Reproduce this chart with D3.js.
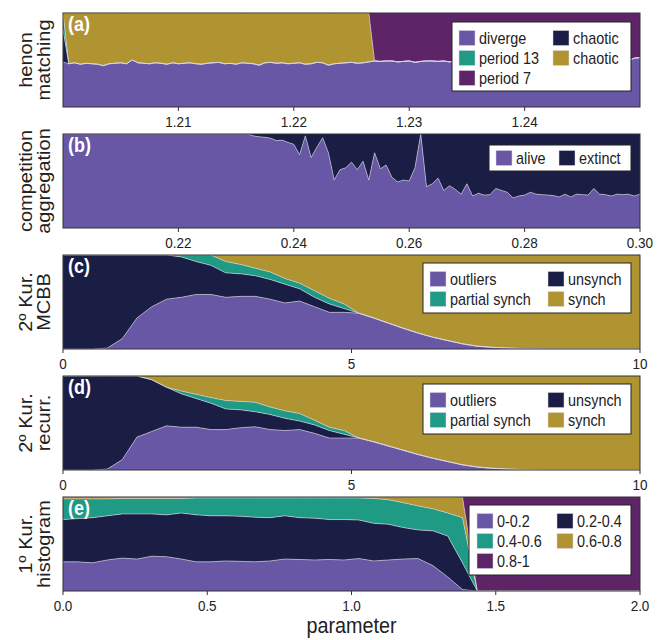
<!DOCTYPE html>
<html><head><meta charset="utf-8">
<script src="https://cdn.jsdelivr.net/npm/d3@7"></script>
<style>body{margin:0;background:#fff} text{font-family:"Liberation Sans",Arial,sans-serif}</style>
</head><body><svg id="chart" width="661" height="640"></svg>
<script>
// ---------------- DATA ----------------
// (a) henon matching : parameter grid 1.2000 .. 1.2500 step 0.0005
const henonX = d3.range(101).map(i => 1.2 + i * 0.0005);
const henonDiverge = [
 .48,.46,.47,.455,.465,.46,.455,.44,.46,.465,
 .47,.46,.50,.47,.465,.46,.47,.465,.455,.47,
 .46,.465,.47,.46,.455,.465,.47,.475,.46,.465,
 .455,.47,.465,.46,.445,.47,.475,.465,.47,.46,
 .465,.47,.455,.46,.475,.47,.445,.46,.465,.47,
 .475,.465,.47,.48,
 .49,.485,.49,.49,.48,.485,.49,.475,.485,.49,
 .49,.485,.49,.48,.49,.495,.485,.49,.49,.485,
 .48,.49,.49,.485,.49,.49,.495,.49,.485,.49,
 .49,.485,.49,.49,.485,.49,.49,.485,.49,.49,
 .485,.49,.49,.485,.49,.52,.525];
// which state holds the non-diverging remainder, as runs of samples
const henonRemainderRuns = [["mixed", 1], ["chaoticGold", 53], ["period7", 47]];
const henonMixed = { chaoticDark: 0.34, period13: 0.18 };
const henonTicks = [1.21, 1.22, 1.23, 1.24];

// (b) competition aggregation : grid 0.200 .. 0.300 step 0.001
const compX = d3.range(101).map(i => 0.2 + i * 0.001);
const compAlive = [
 1,1,1,1,1,1,1,1,1,1, 1,1,1,1,1,1,1,1,1,1, 1,1,1,1,1,1,1,1,1,1, 1,1,1,
 .98,.97,.965,.955,.93,.935,.91,.89,.78,.98,
 .75,.86,.96,.80,.51,.62,.64,.70,.62,.71,
 .51,.80,.63,.67,.54,.49,.51,.50,.64,1.0,
 .44,.47,.53,.40,.45,.41,.36,.47,.34,.37,
 .35,.355,.42,.40,.38,.32,.34,.35,.38,.36,
 .355,.35,.345,.33,.36,.33,.36,.355,.35,.42,
 .36,.355,.34,.36,.355,.36,.34,.36];
const compTicks = [0.22, 0.24, 0.26, 0.28, 0.30];

// (c) 2º Kur. MCBB : 40 samples on 0..10
const kurX = d3.range(40).map(i => i * 10 / 39);
const mcbbOutliers = [0,0,0,.01,.11,.33,.45,.53,.55,.58, .58,.55,.56,.56,.53,.49,.51,.45,.39,.39,
 .38,.33,.275,.22,.17,.125,.09,.055,.03,.018, .01,.005,.002,0,0,0,0,0,0,0];
const mcbbUnsynch = [1,1,1,.99,.89,.67,.55,.47,.43,.35, .31,.26,.24,.22,.21,.20,.13,.10,.09,.04,
 0,0,0,0,0,0,0,0,0,0, 0,0,0,0,0,0,0,0,0,0];
const mcbbPartial = [0,0,0,0,0,0,0,0,.02,.07, .11,.12,.10,.08,.08,.06,.06,.07,.06,.05,
 0,0,0,0,0,0,0,0,0,0, 0,0,0,0,0,0,0,0,0,0];
const mcbbSynch = [0,0,0,0,0,0,0,0,0,0, 0,.07,.10,.14,.18,.25,.30,.38,.46,.52,
 .62,.67,.725,.78,.83,.875,.91,.945,.97,.982, .99,.995,.998,1,1,1,1,1,1,1];

// (d) 2º Kur. recurr.
const recOutliers = [0,0,0,.01,.11,.35,.41,.47,.455,.455, .43,.43,.45,.46,.43,.42,.43,.39,.34,.34,
 .34,.30,.255,.21,.165,.125,.09,.055,.032,.018, .01,.005,.002,0,0,0,0,0,0,0];
const recUnsynch = [1,1,1,.99,.89,.65,.55,.41,.355,.305, .28,.22,.19,.16,.16,.13,.09,.09,.08,.04,
 0,0,0,0,0,0,0,0,0,0, 0,0,0,0,0,0,0,0,0,0];
const recPartial = [0,0,0,0,0,0,0,0,.03,.045, .06,.09,.09,.10,.08,.08,.08,.05,.035,.04,
 0,0,0,0,0,0,0,0,0,0, 0,0,0,0,0,0,0,0,0,0];
const recSynch = [0,0,0,0,0,0,.04,.12,.16,.195, .23,.26,.27,.28,.33,.37,.40,.47,.545,.58,
 .66,.70,.745,.79,.835,.875,.91,.945,.968,.982, .99,.995,.998,1,1,1,1,1,1,1];
const kurTicks = [0, 5, 10];

// (e) 1º Kur. histogram : 40 samples on 0..2
const histX = d3.range(40).map(i => i * 2 / 39);
const hist02 = [.31,.31,.30,.33,.35,.34,.37,.365,.34,.31, .31,.32,.315,.31,.32,.34,.335,.33,.335,.33,
 .345,.32,.33,.34,.345,.27,.15,.015,0,0, 0,0,0,0,0,0,0,0,0,0];
const hist24 = [.45,.46,.48,.47,.47,.48,.45,.445,.49,.50, .49,.48,.48,.475,.46,.46,.445,.445,.425,.43,
 .41,.40,.38,.335,.305,.37,.435,.285,0,0, 0,0,0,0,0,0,0,0,0,0];
const hist46 = [.22,.21,.20,.18,.165,.165,.165,.175,.155,.18, .19,.19,.195,.205,.21,.19,.21,.215,.23,.23,
 .235,.265,.26,.265,.255,.235,.245,.48,0,0, 0,0,0,0,0,0,0,0,0,0];
const hist68 = [.02,.02,.02,.02,.015,.015,.015,.015,.015,.01, .01,.01,.01,.01,.01,.01,.01,.01,.01,.01,
 .01,.015,.03,.06,.095,.125,.17,.22,0,0, 0,0,0,0,0,0,0,0,0,0];
const hist81 = [0,0,0,0,0,0,0,0,0,0, 0,0,0,0,0,0,0,0,0,0, 0,0,0,0,0,0,0,0,1,1, 1,1,1,1,1,1,1,1,1,1];
const histTicks = [0, 0.5, 1.0, 1.5, 2.0];

// ---------------- STYLE / LAYOUT ----------------
const COL = { purple: "#6757a5", navy: "#1b1e44", teal: "#1f9a84", gold: "#b19432", plum: "#5e2468" };
const S = 0.9; // text is slightly condensed horizontally in the reference
const L = 63, R = 640, PH = 94;
const tops = [13, 134, 255, 376, 497];

// ---------------- build rows ----------------
const henonRows = (() => {
  const states = [];
  henonRemainderRuns.forEach(([s, n]) => { for (let k = 0; k < n; k++) states.push(s); });
  return henonX.map((x, i) => {
    const r = { x, diverge: henonDiverge[i], chaoticDark: 0, period13: 0, chaoticGold: 0, period7: 0 };
    const rest = 1 - henonDiverge[i];
    if (states[i] === "mixed") { r.chaoticDark = henonMixed.chaoticDark; r.period13 = henonMixed.period13; }
    else r[states[i]] = rest;
    return r;
  });
})();
const compRows = compX.map((x, i) => ({ x, alive: compAlive[i], extinct: 1 - compAlive[i] }));
const mcbbRows = kurX.map((x, i) => ({ x, outliers: mcbbOutliers[i], unsynch: mcbbUnsynch[i], partial: mcbbPartial[i], synch: mcbbSynch[i] }));
const recRows = kurX.map((x, i) => ({ x, outliers: recOutliers[i], unsynch: recUnsynch[i], partial: recPartial[i], synch: recSynch[i] }));
const histRows = histX.map((x, i) => ({ x, b02: hist02[i], b24: hist24[i], b46: hist46[i], b68: hist68[i], b81: hist81[i] }));

const kurLegend = (y) => ({ box: [423, y, 208, 50], items: [
  ["outliers", COL.purple, 430, y + 16], ["partial synch", COL.teal, 430, y + 36],
  ["unsynch", COL.navy, 548, y + 16], ["synch", COL.gold, 548, y + 36]] });

const panels = [
  { tag: "(a)", label: ["henon", "matching"], rows: henonRows, domain: [1.2, 1.25], ticks: henonTicks, fmt: ".2f",
    layers: [["diverge", COL.purple], ["chaoticDark", COL.navy], ["period13", COL.teal], ["chaoticGold", COL.gold], ["period7", COL.plum]],
    legend: { box: [452, 22, 179, 69], items: [
      ["diverge", COL.purple, 459, 38], ["period 13", COL.teal, 459, 58], ["period 7", COL.plum, 459, 78],
      ["chaotic", COL.navy, 553, 38], ["chaotic", COL.gold, 553, 58]] } },
  { tag: "(b)", label: ["competition", "aggregation"], rows: compRows, domain: [0.2, 0.3], ticks: compTicks, fmt: ".2f",
    layers: [["alive", COL.purple], ["extinct", COL.navy]],
    legend: { box: [489, 145, 142, 26], items: [["alive", COL.purple, 496, 158], ["extinct", COL.navy, 559, 158]] } },
  { tag: "(c)", label: ["2º Kur.", "MCBB"], rows: mcbbRows, domain: [0, 10], ticks: kurTicks, fmt: "d",
    layers: [["outliers", COL.purple], ["unsynch", COL.navy], ["partial", COL.teal], ["synch", COL.gold]],
    legend: kurLegend(263) },
  { tag: "(d)", label: ["2º Kur.", "recurr."], rows: recRows, domain: [0, 10], ticks: kurTicks, fmt: "d",
    layers: [["outliers", COL.purple], ["unsynch", COL.navy], ["partial", COL.teal], ["synch", COL.gold]],
    legend: kurLegend(384) },
  { tag: "(e)", label: ["1º Kur.", "histogram"], rows: histRows, domain: [0, 2], ticks: histTicks, fmt: ".1f",
    layers: [["b02", COL.purple], ["b24", COL.navy], ["b46", COL.teal], ["b68", COL.gold], ["b81", COL.plum]],
    legend: { box: [469, 505, 162, 70], items: [
      ["0-0.2", COL.purple, 477, 521], ["0.4-0.6", COL.teal, 477, 541], ["0.8-1", COL.plum, 477, 561],
      ["0.2-0.4", COL.navy, 557, 521], ["0.6-0.8", COL.gold, 557, 541]] } }
];

// ---------------- DRAW ----------------
const svg = d3.select("#chart");
function txt(g, x, y, s, o) {
  const t = g.append("text")
    .attr("transform", `translate(${x},${y}) scale(${S},1)` + (o.rotate ? " rotate(-90)" : ""))
    .attr("font-size", o.size).attr("text-anchor", o.anchor || "start")
    .attr("fill", o.fill || "#222").text(s);
  if (o.weight) t.attr("font-weight", o.weight);
  return t;
}

panels.forEach((p, pi) => {
  const top = tops[pi], bottom = top + PH;
  const g = svg.append("g");
  const xs = d3.scaleLinear().domain(p.domain).range([L, R]);
  const ys = d3.scaleLinear().domain([0, 1]).range([bottom, top]);
  const clipId = "clip" + pi;
  svg.append("clipPath").attr("id", clipId).append("rect")
    .attr("x", L).attr("y", top).attr("width", R - L).attr("height", PH);

  const stack = d3.stack().keys(p.layers.map(l => l[0]));
  const series = stack(p.rows);
  const area = d3.area().x(d => xs(d.data.x)).y0(d => ys(d[0])).y1(d => ys(d[1]));
  const ag = g.append("g").attr("clip-path", `url(#${clipId})`);
  ag.selectAll("path.fill").data(series).join("path")
    .attr("d", area).attr("fill", (d, i) => p.layers[i][1]).attr("stroke", "none");
  // thin light boundary lines between layers
  const line = d3.line().x(d => xs(d.data.x)).y(d => ys(d[1]));
  ag.selectAll("path.edge").data(series.slice(0, -1)).join("path")
    .attr("d", line).attr("fill", "none").attr("stroke", "#ddd8ea").attr("stroke-width", 0.7).attr("opacity", 0.85);

  // frame
  g.append("rect").attr("x", L).attr("y", top).attr("width", R - L).attr("height", PH)
    .attr("fill", "none").attr("stroke", "#333").attr("stroke-width", 1);

  // x axis ticks
  const fmt = d3.format(p.fmt);
  p.ticks.forEach(t => {
    const x = xs(t);
    g.append("line").attr("x1", x).attr("x2", x).attr("y1", bottom).attr("y2", bottom + 4)
      .attr("stroke", "#333").attr("stroke-width", 1);
    txt(g, x, bottom + 20, fmt(t), { size: 15, anchor: "middle" });
  });

  // panel tag
  txt(g, L + 5, top + 18, p.tag, { size: 20, weight: "bold", fill: "#fff" });

  // y label (two lines)
  const cy = top + PH / 2;
  txt(g, 32, cy, p.label[0], { size: 20, anchor: "middle", rotate: true });
  txt(g, 50, cy, p.label[1], { size: 20, anchor: "middle", rotate: true });

  // legend
  const [bx, by, bw, bh] = p.legend.box;
  g.append("rect").attr("x", bx).attr("y", by).attr("width", bw).attr("height", bh)
    .attr("fill", "#fff").attr("stroke", "#222").attr("stroke-width", 1);
  p.legend.items.forEach(([name, color, sx, sy]) => {
    g.append("rect").attr("x", sx).attr("y", sy - 7.5).attr("width", 16).attr("height", 15)
      .attr("fill", color).attr("stroke", "#ddd8ea").attr("stroke-width", 0.5);
    txt(g, sx + 20, sy + 5.5, name, { size: 16 });
  });
});

txt(svg, (L + R) / 2, 633, "parameter", { size: 22, anchor: "middle" });
</script></body></html>
